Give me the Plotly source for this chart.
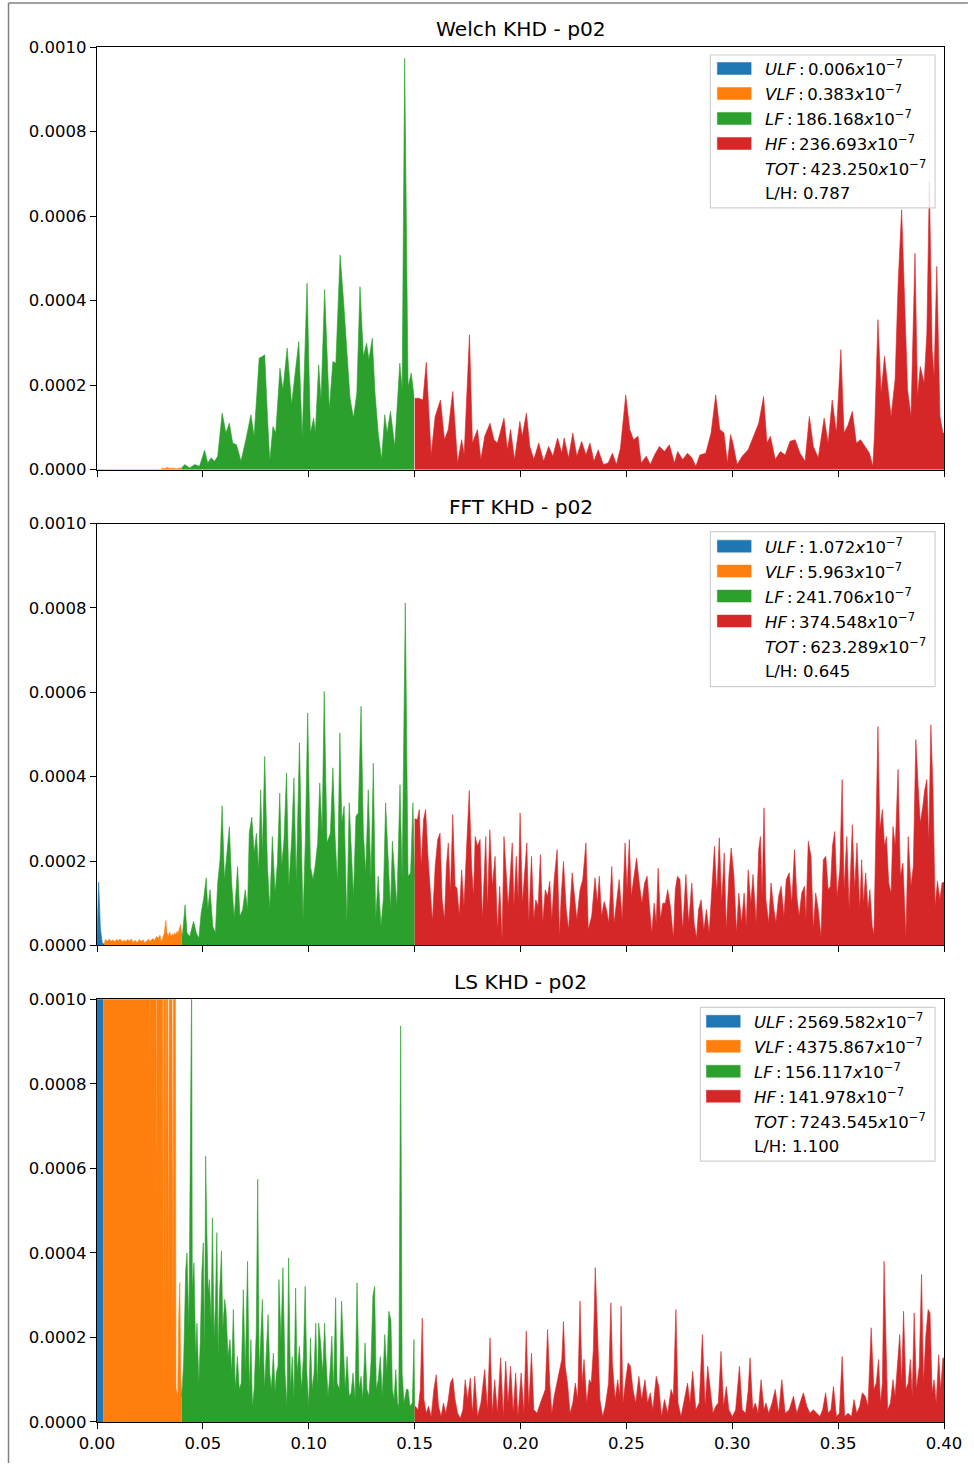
import plotly.graph_objects as go
from plotly.subplots import make_subplots

# ---------------- data (frequency in Hz, PSD in units of 1e-6) ----------------
PSD_UNIT = 1e-6
BANDS = ["ULF", "VLF", "LF", "HF"]
COLORS = {"ULF": "#1f77b4", "VLF": "#ff7f0e", "LF": "#2ca02c", "HF": "#d62728"}
TITLES = ["Welch KHD - p02", "FFT KHD - p02", "LS KHD - p02"]
X_TICKS = [0.00, 0.05, 0.10, 0.15, 0.20, 0.25, 0.30, 0.35, 0.40]
Y_TICKS = [0.0, 0.0002, 0.0004, 0.0006, 0.0008, 0.0010]

welch_legend = ["0.006", "0.383", "186.168", "236.693", "423.250"]
welch_lh = "0.787"
fft_legend = ["1.072", "5.963", "241.706", "374.548", "623.289"]
fft_lh = "0.645"
ls_legend = ["2569.582", "4375.867", "156.117", "141.978", "7243.545"]
ls_lh = "1.100"

welch_ulf = [(0.0000, 0), (0.0015, 0), (0.0030, 0)]
welch_vlf = [(0.0030, 0), (0.0300, 0), (0.0310, 4), (0.0320, 2), (0.0330, 5), (0.0345, 3),
             (0.0360, 4), (0.0375, 2), (0.0391, 4), (0.0400, 4)]
welch_lf = [(0.0400, 4), (0.0414, 12), (0.0438, 4), (0.0461, 12), (0.0484, 8), (0.0508, 46),
            (0.0523, 16), (0.0539, 28), (0.0555, 20), (0.0570, 32), (0.0591, 134), (0.0609, 87),
            (0.0625, 110), (0.0641, 63), (0.0659, 59), (0.0680, 20), (0.0703, 71), (0.0727, 130),
            (0.0742, 79), (0.0766, 264), (0.0781, 268), (0.0792, 272), (0.0805, 126), (0.0816, 20),
            (0.0831, 102), (0.0844, 87), (0.0864, 240), (0.0878, 189), (0.0898, 288), (0.0919, 154),
            (0.0934, 221), (0.0953, 303), (0.0969, 75), (0.0992, 441), (0.1008, 87), (0.1023, 122),
            (0.1031, 87), (0.1047, 248), (0.1058, 165), (0.1075, 426), (0.1097, 142), (0.1114, 256),
            (0.1128, 252), (0.1148, 508), (0.1164, 402), (0.1180, 284), (0.1195, 169), (0.1211, 122),
            (0.1227, 181), (0.1242, 433), (0.1258, 268), (0.1273, 299), (0.1284, 260), (0.1300, 311),
            (0.1313, 181), (0.1328, 87), (0.1344, 24), (0.1359, 130), (0.1370, 87), (0.1386, 138),
            (0.1406, 55), (0.1430, 252), (0.1441, 189), (0.1453, 973), (0.1469, 197), (0.1484, 229),
            (0.1497, 173)]
welch_hf = [(0.1500, 169), (0.1519, 169), (0.1539, 165), (0.1555, 254), (0.1578, 35), (0.1597, 126),
            (0.1622, 165), (0.1641, 71), (0.1659, 95), (0.1680, 185), (0.1703, 16), (0.1722, 71),
            (0.1734, 35), (0.1759, 319), (0.1773, 63), (0.1797, 95), (0.1813, 24), (0.1831, 79),
            (0.1856, 110), (0.1875, 71), (0.1891, 63), (0.1922, 122), (0.1938, 47), (0.1953, 95),
            (0.1972, 24), (0.1997, 114), (0.2008, 79), (0.2028, 134), (0.2044, 55), (0.2063, 24),
            (0.2086, 63), (0.2109, 20), (0.2133, 55), (0.2153, 32), (0.2175, 75), (0.2195, 39),
            (0.2206, 75), (0.2227, 28), (0.2247, 87), (0.2266, 32), (0.2289, 67), (0.2309, 35),
            (0.2328, 63), (0.2347, 20), (0.2367, 47), (0.2391, 12), (0.2414, 16), (0.2434, 39),
            (0.2453, 12), (0.2472, 51), (0.2497, 177), (0.2516, 95), (0.2534, 71), (0.2555, 79),
            (0.2570, 16), (0.2594, 32), (0.2613, 12), (0.2633, 35), (0.2656, 55), (0.2680, 43),
            (0.2703, 59), (0.2727, 16), (0.2742, 43), (0.2766, 24), (0.2789, 39), (0.2809, 28),
            (0.2828, 8), (0.2847, 35), (0.2875, 39), (0.2900, 87), (0.2922, 177), (0.2941, 95),
            (0.2961, 87), (0.2977, 16), (0.2992, 83), (0.3003, 63), (0.3023, 12), (0.3047, 32),
            (0.3075, 47), (0.3102, 79), (0.3125, 110), (0.3148, 173), (0.3164, 63), (0.3180, 79),
            (0.3203, 24), (0.3227, 43), (0.3250, 35), (0.3273, 67), (0.3297, 71), (0.3320, 39),
            (0.3344, 20), (0.3364, 126), (0.3383, 55), (0.3406, 28), (0.3434, 122), (0.3453, 63),
            (0.3472, 165), (0.3492, 87), (0.3513, 284), (0.3528, 87), (0.3547, 106), (0.3567, 138),
            (0.3586, 63), (0.3606, 71), (0.3628, 55), (0.3648, 39), (0.3664, 8), (0.3672, 87),
            (0.3688, 355), (0.3703, 181), (0.3719, 268), (0.3734, 201), (0.3750, 126), (0.3769, 213),
            (0.3784, 449), (0.3800, 615), (0.3813, 402), (0.3828, 189), (0.3844, 126), (0.3863, 512),
            (0.3875, 173), (0.3888, 244), (0.3906, 205), (0.3919, 323), (0.3931, 682), (0.3944, 284),
            (0.3953, 221), (0.3966, 481), (0.3981, 126), (0.3995, 87), (0.4000, 87)]

fft_ulf = [(0.0000, 20), (0.0008, 150), (0.0016, 40), (0.0025, 5), (0.0034, 3)]
fft_vlf = [(0.0034, 3), (0.0040, 14), (0.0050, 10), (0.0058, 15), (0.0066, 9), (0.0075, 13),
           (0.0084, 8), (0.0092, 14), (0.0100, 11), (0.0109, 15), (0.0118, 8), (0.0127, 12),
           (0.0136, 9), (0.0145, 14), (0.0153, 10), (0.0162, 15), (0.0170, 7), (0.0180, 12),
           (0.0190, 6), (0.0200, 14), (0.0209, 9), (0.0218, 13), (0.0226, 5), (0.0235, 11),
           (0.0244, 14), (0.0253, 10), (0.0263, 16), (0.0272, 12), (0.0281, 21), (0.0290, 17),
           (0.0297, 24), (0.0305, 7), (0.0312, 20), (0.0318, 29), (0.0325, 59), (0.0330, 30),
           (0.0336, 22), (0.0344, 31), (0.0350, 20), (0.0356, 27), (0.0362, 22), (0.0367, 30),
           (0.0372, 24), (0.0378, 33), (0.0383, 28), (0.0388, 41), (0.0394, 49), (0.0400, 29)]
fft_lf = [(0.0400, 29), (0.0403, 21), (0.0416, 96), (0.0425, 29), (0.0438, 21), (0.0456, 57),
          (0.0469, 29), (0.0481, 17), (0.0492, 77), (0.0503, 108), (0.0516, 160), (0.0523, 85),
          (0.0534, 132), (0.0547, 45), (0.0559, 29), (0.0570, 148), (0.0581, 203), (0.0591, 331),
          (0.0602, 156), (0.0613, 211), (0.0625, 281), (0.0636, 148), (0.0648, 65), (0.0664, 187),
          (0.0675, 69), (0.0688, 85), (0.0700, 132), (0.0711, 85), (0.0719, 266), (0.0731, 304),
          (0.0742, 219), (0.0753, 266), (0.0763, 179), (0.0773, 369), (0.0781, 219), (0.0792, 448),
          (0.0805, 187), (0.0816, 85), (0.0828, 258), (0.0841, 124), (0.0852, 195), (0.0863, 361),
          (0.0872, 187), (0.0883, 251), (0.0895, 409), (0.0906, 140), (0.0919, 251), (0.0930, 397),
          (0.0941, 148), (0.0956, 480), (0.0966, 187), (0.0973, 61), (0.0984, 251), (0.0995, 551),
          (0.1008, 187), (0.1020, 156), (0.1031, 191), (0.1042, 243), (0.1052, 385), (0.1063, 266),
          (0.1073, 602), (0.1086, 243), (0.1102, 266), (0.1114, 421), (0.1125, 251), (0.1136, 148),
          (0.1147, 504), (0.1156, 290), (0.1167, 330), (0.1180, 53), (0.1191, 338), (0.1203, 187),
          (0.1211, 116), (0.1223, 306), (0.1234, 314), (0.1247, 567), (0.1258, 266), (0.1269, 172),
          (0.1281, 369), (0.1294, 156), (0.1305, 432), (0.1316, 61), (0.1328, 164), (0.1341, 45),
          (0.1352, 108), (0.1363, 338), (0.1375, 187), (0.1386, 85), (0.1395, 247), (0.1406, 164),
          (0.1416, 92), (0.1431, 381), (0.1441, 156), (0.1456, 812), (0.1469, 164), (0.1481, 172),
          (0.1492, 338), (0.1500, 156)]
fft_hf = [(0.1500, 300), (0.1513, 298), (0.1522, 322), (0.1531, 187), (0.1542, 298), (0.1552, 322),
          (0.1563, 211), (0.1573, 148), (0.1584, 57), (0.1597, 187), (0.1609, 251), (0.1620, 266),
          (0.1630, 108), (0.1641, 61), (0.1650, 187), (0.1659, 243), (0.1669, 124), (0.1680, 310),
          (0.1691, 140), (0.1700, 136), (0.1711, 69), (0.1722, 179), (0.1733, 92), (0.1745, 227),
          (0.1758, 367), (0.1769, 187), (0.1778, 116), (0.1786, 258), (0.1797, 235), (0.1809, 251),
          (0.1820, 61), (0.1836, 258), (0.1844, 92), (0.1855, 274), (0.1867, 140), (0.1880, 211),
          (0.1891, 37), (0.1902, 140), (0.1913, 13), (0.1922, 258), (0.1933, 156), (0.1942, 92),
          (0.1953, 179), (0.1961, 243), (0.1969, 92), (0.1980, 211), (0.1989, 108), (0.1998, 314),
          (0.2009, 100), (0.2020, 172), (0.2030, 243), (0.2039, 53), (0.2052, 211), (0.2063, 61),
          (0.2072, 108), (0.2083, 92), (0.2094, 215), (0.2105, 53), (0.2117, 132), (0.2128, 116),
          (0.2138, 152), (0.2148, 61), (0.2159, 156), (0.2173, 227), (0.2184, 21), (0.2192, 116),
          (0.2203, 199), (0.2216, 85), (0.2227, 37), (0.2244, 172), (0.2255, 124), (0.2266, 61),
          (0.2281, 132), (0.2294, 156), (0.2309, 243), (0.2320, 37), (0.2336, 69), (0.2352, 160),
          (0.2363, 100), (0.2372, 164), (0.2383, 69), (0.2395, 104), (0.2406, 85), (0.2417, 53),
          (0.2431, 187), (0.2442, 53), (0.2453, 100), (0.2466, 156), (0.2480, 61), (0.2494, 243),
          (0.2503, 132), (0.2514, 251), (0.2523, 116), (0.2538, 179), (0.2548, 207), (0.2559, 156),
          (0.2573, 100), (0.2586, 148), (0.2598, 164), (0.2609, 92), (0.2620, 29), (0.2631, 100),
          (0.2641, 53), (0.2650, 183), (0.2661, 61), (0.2672, 100), (0.2684, 100), (0.2695, 132),
          (0.2708, 92), (0.2722, 17), (0.2731, 132), (0.2741, 164), (0.2753, 156), (0.2766, 37),
          (0.2781, 168), (0.2794, 53), (0.2809, 148), (0.2820, 53), (0.2831, 17), (0.2841, 85),
          (0.2853, 108), (0.2866, 37), (0.2878, 85), (0.2891, 29), (0.2903, 116), (0.2916, 235),
          (0.2927, 124), (0.2939, 255), (0.2950, 100), (0.2962, 219), (0.2972, 37), (0.2984, 164),
          (0.2995, 231), (0.3008, 164), (0.3020, 29), (0.3031, 124), (0.3044, 53), (0.3056, 124),
          (0.3066, 45), (0.3075, 179), (0.3088, 100), (0.3098, 168), (0.3113, 53), (0.3125, 227),
          (0.3133, 258), (0.3141, 116), (0.3150, 326), (0.3159, 108), (0.3172, 53), (0.3183, 148),
          (0.3195, 92), (0.3206, 53), (0.3219, 116), (0.3231, 140), (0.3244, 69), (0.3255, 156),
          (0.3269, 172), (0.3281, 100), (0.3294, 227), (0.3305, 116), (0.3316, 69), (0.3328, 124),
          (0.3341, 140), (0.3348, 61), (0.3359, 247), (0.3372, 211), (0.3383, 37), (0.3394, 124),
          (0.3406, 85), (0.3419, 21), (0.3430, 203), (0.3442, 211), (0.3453, 132), (0.3464, 140),
          (0.3473, 235), (0.3484, 270), (0.3495, 116), (0.3508, 179), (0.3519, 393), (0.3528, 132),
          (0.3541, 258), (0.3552, 85), (0.3567, 286), (0.3578, 132), (0.3589, 243), (0.3602, 85),
          (0.3611, 203), (0.3620, 100), (0.3630, 172), (0.3641, 85), (0.3650, 132), (0.3661, 45),
          (0.3669, 25), (0.3677, 251), (0.3688, 519), (0.3697, 274), (0.3709, 322), (0.3719, 235),
          (0.3728, 258), (0.3739, 148), (0.3750, 124), (0.3759, 282), (0.3770, 235), (0.3783, 417),
          (0.3794, 164), (0.3806, 195), (0.3820, 21), (0.3831, 258), (0.3844, 140), (0.3855, 187),
          (0.3867, 488), (0.3878, 377), (0.3888, 290), (0.3900, 330), (0.3909, 369), (0.3919, 393),
          (0.3928, 243), (0.3938, 523), (0.3948, 369), (0.3958, 92), (0.3969, 152), (0.3980, 108),
          (0.3991, 148), (0.4000, 150)]

ls_ulf = [(0.0000, 60000), (0.0010, 120000), (0.0020, 90000), (0.0031, 60000)]
ls_vlf = [(0.0031, 40000), (0.0080, 30000), (0.0130, 18000), (0.0180, 9000), (0.0220, 5000),
          (0.0245, 2500), (0.0250, 820), (0.0255, 2500), (0.0275, 2000), (0.0281, 470),
          (0.0286, 2000), (0.0308, 1800), (0.0313, 33), (0.0317, 1600), (0.0322, 1500),
          (0.0325, 200), (0.0328, 1500), (0.0334, 1400), (0.0336, 250), (0.0339, 1400),
          (0.0344, 1300), (0.0352, 1300), (0.0359, 180), (0.0362, 1300), (0.0367, 1200),
          (0.0370, 1100), (0.0373, 80), (0.0381, 60), (0.0386, 250), (0.0391, 330),
          (0.0395, 120), (0.0400, 60)]
ls_lf = [(0.0400, 60), (0.0409, 140), (0.0419, 361), (0.0425, 400), (0.0434, 219), (0.0442, 858),
         (0.0447, 1050), (0.0450, 313), (0.0458, 377), (0.0466, 155), (0.0472, 234), (0.0481, 92),
         (0.0488, 195), (0.0495, 353), (0.0502, 424), (0.0508, 155), (0.0513, 629), (0.0519, 448),
         (0.0525, 305), (0.0531, 337), (0.0539, 234), (0.0545, 483), (0.0553, 195), (0.0559, 274),
         (0.0566, 448), (0.0572, 155), (0.0578, 298), (0.0588, 404), (0.0594, 219), (0.0603, 290),
         (0.0609, 266), (0.0619, 155), (0.0628, 195), (0.0636, 116), (0.0644, 266), (0.0653, 77),
         (0.0663, 155), (0.0672, 77), (0.0681, 92), (0.0691, 313), (0.0700, 116), (0.0711, 380),
         (0.0719, 77), (0.0727, 195), (0.0734, 37), (0.0742, 77), (0.0752, 211), (0.0759, 574),
         (0.0766, 116), (0.0773, 195), (0.0781, 290), (0.0791, 77), (0.0800, 195), (0.0808, 254),
         (0.0816, 116), (0.0823, 77), (0.0833, 163), (0.0841, 69), (0.0847, 116), (0.0855, 132),
         (0.0859, 337), (0.0869, 195), (0.0878, 365), (0.0888, 116), (0.0897, 37), (0.0905, 388),
         (0.0914, 77), (0.0922, 155), (0.0930, 53), (0.0938, 317), (0.0945, 116), (0.0956, 179),
         (0.0966, 77), (0.0975, 155), (0.0983, 321), (0.0991, 116), (0.1000, 37), (0.1008, 199),
         (0.1016, 77), (0.1025, 116), (0.1033, 234), (0.1041, 77), (0.1047, 234), (0.1056, 187),
         (0.1066, 116), (0.1075, 234), (0.1081, 155), (0.1091, 61), (0.1100, 116), (0.1109, 203),
         (0.1117, 77), (0.1127, 294), (0.1134, 92), (0.1145, 77), (0.1155, 286), (0.1163, 167),
         (0.1172, 77), (0.1181, 155), (0.1191, 61), (0.1200, 69), (0.1209, 116), (0.1219, 53),
         (0.1228, 329), (0.1238, 77), (0.1247, 108), (0.1255, 53), (0.1266, 187), (0.1275, 77),
         (0.1284, 61), (0.1294, 140), (0.1303, 298), (0.1311, 321), (0.1319, 77), (0.1328, 100),
         (0.1338, 155), (0.1347, 61), (0.1359, 207), (0.1369, 116), (0.1378, 262), (0.1388, 242),
         (0.1395, 77), (0.1403, 53), (0.1411, 124), (0.1419, 45), (0.1425, 37), (0.1434, 937),
         (0.1441, 116), (0.1450, 45), (0.1461, 77), (0.1469, 77), (0.1478, 37), (0.1489, 45),
         (0.1497, 195), (0.1500, 37)]
ls_hf = [(0.1500, 37), (0.1503, 37), (0.1516, 29), (0.1527, 77), (0.1536, 246), (0.1544, 53),
         (0.1555, 21), (0.1566, 37), (0.1578, 13), (0.1591, 77), (0.1602, 112), (0.1613, 37),
         (0.1625, 13), (0.1636, 45), (0.1647, 21), (0.1659, 53), (0.1669, 92), (0.1680, 104),
         (0.1691, 53), (0.1703, 21), (0.1716, 9), (0.1728, 29), (0.1739, 100), (0.1750, 53),
         (0.1763, 104), (0.1773, 21), (0.1784, 108), (0.1797, 13), (0.1813, 45), (0.1831, 124),
         (0.1844, 29), (0.1856, 199), (0.1867, 21), (0.1878, 100), (0.1891, 21), (0.1906, 152),
         (0.1919, 13), (0.1930, 144), (0.1941, 45), (0.1953, 132), (0.1966, 21), (0.1977, 116),
         (0.1988, 13), (0.2003, 116), (0.2016, 21), (0.2027, 215), (0.2039, 37), (0.2052, 163),
         (0.2063, 29), (0.2078, 21), (0.2094, 45), (0.2106, 61), (0.2117, 77), (0.2128, 219),
         (0.2138, 92), (0.2148, 21), (0.2159, 61), (0.2172, 92), (0.2184, 124), (0.2195, 148),
         (0.2203, 238), (0.2211, 132), (0.2222, 92), (0.2234, 21), (0.2247, 45), (0.2259, 92),
         (0.2270, 53), (0.2281, 286), (0.2291, 92), (0.2300, 148), (0.2313, 45), (0.2325, 100),
         (0.2334, 92), (0.2344, 171), (0.2353, 365), (0.2363, 203), (0.2375, 53), (0.2388, 13),
         (0.2400, 37), (0.2416, 92), (0.2427, 282), (0.2434, 140), (0.2447, 53), (0.2459, 100),
         (0.2469, 61), (0.2475, 274), (0.2484, 45), (0.2497, 100), (0.2508, 140), (0.2519, 132),
         (0.2531, 77), (0.2544, 45), (0.2559, 108), (0.2572, 53), (0.2588, 100), (0.2600, 45),
         (0.2613, 69), (0.2625, 29), (0.2641, 108), (0.2653, 84), (0.2666, 13), (0.2680, 53),
         (0.2695, 21), (0.2711, 77), (0.2722, 61), (0.2734, 266), (0.2744, 45), (0.2758, 13),
         (0.2773, 53), (0.2789, 92), (0.2800, 45), (0.2813, 120), (0.2828, 29), (0.2844, 45),
         (0.2859, 207), (0.2872, 37), (0.2884, 132), (0.2898, 77), (0.2909, 21), (0.2922, 37),
         (0.2934, 45), (0.2947, 167), (0.2959, 37), (0.2972, 84), (0.2984, 29), (0.3000, 13),
         (0.3016, 29), (0.3034, 132), (0.3047, 29), (0.3063, 21), (0.3075, 73), (0.3084, 152),
         (0.3097, 29), (0.3109, 45), (0.3122, 21), (0.3136, 100), (0.3150, 29), (0.3159, 45),
         (0.3172, 21), (0.3188, 45), (0.3203, 77), (0.3219, 21), (0.3234, 100), (0.3250, 21),
         (0.3269, 29), (0.3289, 61), (0.3305, 21), (0.3320, 45), (0.3336, 69), (0.3352, 37),
         (0.3367, 21), (0.3383, 29), (0.3398, 21), (0.3414, 13), (0.3427, 29), (0.3441, 69),
         (0.3453, 21), (0.3466, 29), (0.3478, 84), (0.3492, 13), (0.3506, 21), (0.3519, 155),
         (0.3531, 13), (0.3547, 21), (0.3563, 13), (0.3575, 53), (0.3588, 21), (0.3602, 37),
         (0.3614, 69), (0.3628, 61), (0.3641, 37), (0.3656, 223), (0.3669, 77), (0.3680, 92),
         (0.3691, 148), (0.3700, 45), (0.3709, 92), (0.3717, 380), (0.3727, 171), (0.3734, 29),
         (0.3747, 45), (0.3759, 100), (0.3769, 61), (0.3781, 155), (0.3791, 207), (0.3800, 92),
         (0.3809, 262), (0.3820, 77), (0.3831, 92), (0.3841, 148), (0.3850, 61), (0.3859, 258),
         (0.3870, 77), (0.3883, 132), (0.3894, 349), (0.3903, 92), (0.3914, 203), (0.3925, 266),
         (0.3934, 258), (0.3944, 69), (0.3953, 100), (0.3963, 45), (0.3975, 159), (0.3984, 77),
         (0.3995, 152), (0.4000, 150)]

METHODS = [
    {"bands": [welch_ulf, welch_vlf, welch_lf, welch_hf], "legend": welch_legend, "lh": welch_lh},
    {"bands": [fft_ulf, fft_vlf, fft_lf, fft_hf], "legend": fft_legend, "lh": fft_lh},
    {"bands": [ls_ulf, ls_vlf, ls_lf, ls_hf], "legend": ls_legend, "lh": ls_lh},
]

# ---------------- layout geometry (pixels) ----------------
W, H = 974, 1465
ML, MR, MT, MB = 97, 25, 47, 42
PW, PH = W - ML - MR, H - MT - MB
SUB_PX = [(47, 470), (524, 946), (1000, 1423)]
TITLE_PX = [29, 507, 983]
# box_left, box_top, box_bottom, patch_left, patch_right, text_left, first_row_y
LEG_PX = [(714, 55, 208, 721, 755, 769, 68.5),
          (714, 532, 687, 721, 755, 769, 546.5),
          (704, 1008, 1162, 710, 744, 758, 1022)]
LEG_RIGHT = 940
ROW_STEP = 25
FONT = "DejaVu Sans"


def px_x(px):
    return (px - ML) / PW


def px_y(py):
    return (H - MB - py) / PH


fig = make_subplots(rows=3, cols=1)

for i, m in enumerate(METHODS):
    for band, pts in zip(BANDS, m["bands"]):
        fig.add_trace(go.Scatter(
            x=[p[0] for p in pts], y=[p[1] * PSD_UNIT for p in pts],
            mode="lines", fill="tozeroy", fillcolor=COLORS[band],
            line=dict(color=COLORS[band], width=0.6),
            showlegend=False, hoverinfo="skip", name=band), row=i + 1, col=1)

axis_common = dict(showline=True, linecolor="black", linewidth=1.3, mirror=True,
                   ticks="outside", ticklen=6, tickwidth=1.3, tickcolor="black",
                   showgrid=False, zeroline=False,
                   tickfont=dict(family=FONT, size=16.5, color="black"))

for i in range(3):
    fig.update_xaxes(range=[0, 0.4], tickvals=X_TICKS, tickformat=".2f",
                     showticklabels=(i == 2), row=i + 1, col=1, **axis_common)
    fig.update_yaxes(range=[0, 0.001], tickvals=Y_TICKS, tickformat=".4f",
                     row=i + 1, col=1, **axis_common)

fig.layout.yaxis.domain = [px_y(SUB_PX[0][1]), px_y(SUB_PX[0][0])]
fig.layout.yaxis2.domain = [px_y(SUB_PX[1][1]), px_y(SUB_PX[1][0])]
fig.layout.yaxis3.domain = [px_y(SUB_PX[2][1]), px_y(SUB_PX[2][0])]

shapes, annotations = [], []

# outer frame (gray border of the original figure)
shapes.append(dict(type="line", xref="paper", yref="paper", x0=px_x(8), x1=px_x(W - 1),
                   y0=px_y(3), y1=px_y(3), line=dict(color="#808080", width=1.5)))
shapes.append(dict(type="line", xref="paper", yref="paper", x0=px_x(8), x1=px_x(8),
                   y0=px_y(3), y1=px_y(H - 1), line=dict(color="#808080", width=1.5)))

for i, m in enumerate(METHODS):
    annotations.append(dict(text=TITLES[i], xref="paper", yref="paper", x=0.5,
                            y=px_y(TITLE_PX[i]), xanchor="center", yanchor="middle",
                            showarrow=False, font=dict(family=FONT, size=20.2, color="black")))
    bl, bt, bb, pl, pr, tl, r0 = LEG_PX[i]
    shapes.append(dict(type="rect", xref="paper", yref="paper",
                       x0=px_x(bl), x1=px_x(LEG_RIGHT), y0=px_y(bb), y1=px_y(bt),
                       fillcolor="rgba(255,255,255,0.8)", line=dict(color="#d0d0d0", width=1.2)))
    labels = BANDS + ["TOT"]
    for k, lab in enumerate(labels):
        yc = r0 + k * ROW_STEP
        if lab in COLORS:
            shapes.append(dict(type="rect", xref="paper", yref="paper",
                               x0=px_x(pl), x1=px_x(pr), y0=px_y(yc + 6), y1=px_y(yc - 6),
                               fillcolor=COLORS[lab], line=dict(color=COLORS[lab], width=0.5)))
        txt = f"<i>{lab}</i>\u2009:\u2009{m['legend'][k]}<i>x</i>10<sup>\u22127</sup>"
        annotations.append(dict(text=txt, xref="paper", yref="paper", x=px_x(tl - 2),
                                y=px_y(yc), xanchor="left", yanchor="middle", showarrow=False,
                                font=dict(family=FONT, size=16.5, color="black")))
    yc = r0 + 5 * ROW_STEP
    annotations.append(dict(text=f"L/H: {m['lh']}", xref="paper", yref="paper", x=px_x(tl - 2),
                            y=px_y(yc), xanchor="left", yanchor="middle", showarrow=False,
                            font=dict(family=FONT, size=16.5, color="black")))

fig.update_layout(width=W, height=H, margin=dict(l=ML, r=MR, t=MT, b=MB, pad=0),
                  paper_bgcolor="white", plot_bgcolor="white",
                  shapes=shapes, annotations=annotations, showlegend=False)

fig.write_html("out.html")
